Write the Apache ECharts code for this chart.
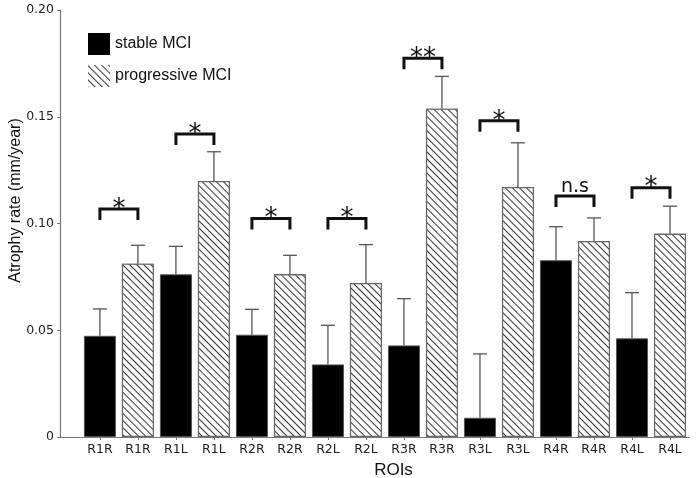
<!DOCTYPE html>
<html><head><meta charset="utf-8">
<script src="https://cdn.jsdelivr.net/npm/echarts@6/dist/echarts.min.js"></script>
<style>html,body{margin:0;padding:0;background:#fff}#c{width:696px;height:478px}</style>
</head><body><div id="c"></div>
<script>
const categories = ['R1R','R1R','R1L','R1L','R2R','R2R','R2L','R2L','R3R','R3R','R3L','R3L','R4R','R4R','R4L','R4L'];
const stableMean = [0.0474, 0.0762, 0.0479, 0.0340, 0.0429, 0.0090, 0.0828, 0.0462];
const stableUpper = [0.0600, 0.0893, 0.0598, 0.0523, 0.0648, 0.0389, 0.0985, 0.0676];
const progMean = [0.0812, 0.1199, 0.0762, 0.0721, 0.1538, 0.1171, 0.0918, 0.0952];
const progUpper = [0.0898, 0.1336, 0.0851, 0.0901, 0.1689, 0.1378, 0.1026, 0.1081];
const bracketY = [0.1068, 0.1419, 0.1024, 0.1024, 0.1774, 0.1481, 0.1129, 0.1168];
const bracketLabels = ['*','*','*','*','**','*','n.s','*'];
const yTicks = [0, 0.05, 0.10, 0.15, 0.20];

const idx = categories.map((c,i)=>i);
const stableData = stableMean.map((v,i)=>[2*i, v]);
const progData = progMean.map((v,i)=>[2*i+1, v]);
const errData = [];
stableMean.forEach((v,i)=>errData.push([2*i, v, stableUpper[i]]));
progMean.forEach((v,i)=>errData.push([2*i+1, v, progUpper[i]]));
const bracketData = bracketY.map((y,i)=>[2*i, 2*i+1, y, bracketLabels[i]]);

const hatch = {symbol:'rect', symbolSize:1, dashArrayX:[[1,0]], dashArrayY:[1,3.6], rotation:Math.PI/4, color:'#333', backgroundColor:'#fff'};

const chart = echarts.init(document.getElementById('c'));
chart.setOption({
  animation:false,
  backgroundColor:'#fff',
  grid:{left:60, right:7, top:10, bottom:41, containLabel:false, outerBoundsMode:'none'},
  legend:{
    orient:'vertical', left:88, top:33, padding:0, itemWidth:22, itemHeight:22, itemGap:10,
    icon:'rect',
    textStyle:{fontSize:16, fontFamily:'Liberation Sans', color:'#111'},
    data:[{name:'stable MCI', itemStyle:{borderWidth:0}}, {name:'progressive MCI', itemStyle:{borderWidth:0}}]
  },
  xAxis:{
    type:'value', min:-1.05, max:15.5,
    splitLine:{show:false},
    axisLine:{show:true, onZero:false, lineStyle:{color:'#777', width:1.2}},
    axisTick:{show:true, customValues:idx, length:3, lineStyle:{color:'#777'}},
    axisLabel:{customValues:idx, formatter:v=>categories[v], fontSize:12.5, fontFamily:'DejaVu Sans', color:'#222', margin:6},
    name:'ROIs', nameLocation:'middle', nameGap:25,
    nameTextStyle:{fontSize:17, fontFamily:'Liberation Sans', color:'#111', padding:[0,0,0,38]}
  },
  yAxis:{
    type:'value', min:0, max:0.2, interval:0.05,
    splitLine:{show:false},
    axisLine:{show:true, onZero:false, lineStyle:{color:'#777', width:1.2}},
    axisTick:{show:true, length:3, lineStyle:{color:'#777'}},
    axisLabel:{fontSize:12.5, fontFamily:'DejaVu Sans', color:'#222', margin:6,
      formatter:v=>{const t=yTicks.find(x=>Math.abs(x-v)<1e-9); return t===0?'0':(t!==undefined?t.toFixed(2):'');}},
    name:'Atrophy rate (mm/year)', nameLocation:'middle', nameGap:36, nameMoveOverlap:false,
    nameTextStyle:{fontSize:16, fontFamily:'Liberation Sans', color:'#111', padding:[0,0,0,46]}
  },
  series:[
    {name:'stable MCI', type:'bar', data:stableData, barWidth:32, barGap:'-100%',
     itemStyle:{color:'#000', borderColor:'#555', borderWidth:1}},
    {name:'progressive MCI', type:'bar', data:progData, barWidth:32, barGap:'-100%',
     itemStyle:{color:'#fff', borderColor:'#666', borderWidth:1.2, decal:hatch}},
    {type:'custom', data:errData, z:1, silent:true,
     renderItem:(params, api)=>{
       const x = api.value(0);
       const p0 = api.coord([x, api.value(1)]);
       const p1 = api.coord([x, api.value(2)]);
       return {type:'group', children:[
         {type:'line', shape:{x1:p0[0], y1:p0[1], x2:p1[0], y2:p1[1]}, style:{stroke:'#555', lineWidth:1.3}},
         {type:'line', shape:{x1:p1[0]-7, y1:p1[1], x2:p1[0]+7, y2:p1[1]}, style:{stroke:'#555', lineWidth:1.3}}
       ]};
     }},
    {type:'custom', data:bracketData, silent:true,
     renderItem:(params, api)=>{
       const a = api.coord([api.value(0), api.value(2)]);
       const b = api.coord([api.value(1), api.value(2)]);
       const lab = bracketLabels[params.dataIndex];
       const isStar = lab.indexOf('*')>=0;
       return {type:'group', children:[
         {type:'polyline', shape:{points:[[a[0],a[1]+11],[a[0],a[1]],[b[0],b[1]],[b[0],b[1]+11]]},
          style:{stroke:'#111', lineWidth:3, fill:null}},
         {type:'text', x:(a[0]+b[0])/2, y:a[1]+(isStar?14:1),
          style:{text:lab, fontSize:isStar?26:19, fontFamily:'DejaVu Sans', fill:'#111', align:'center', verticalAlign:'bottom'}}
       ]};
     }}
  ]
});
</script></body></html>
